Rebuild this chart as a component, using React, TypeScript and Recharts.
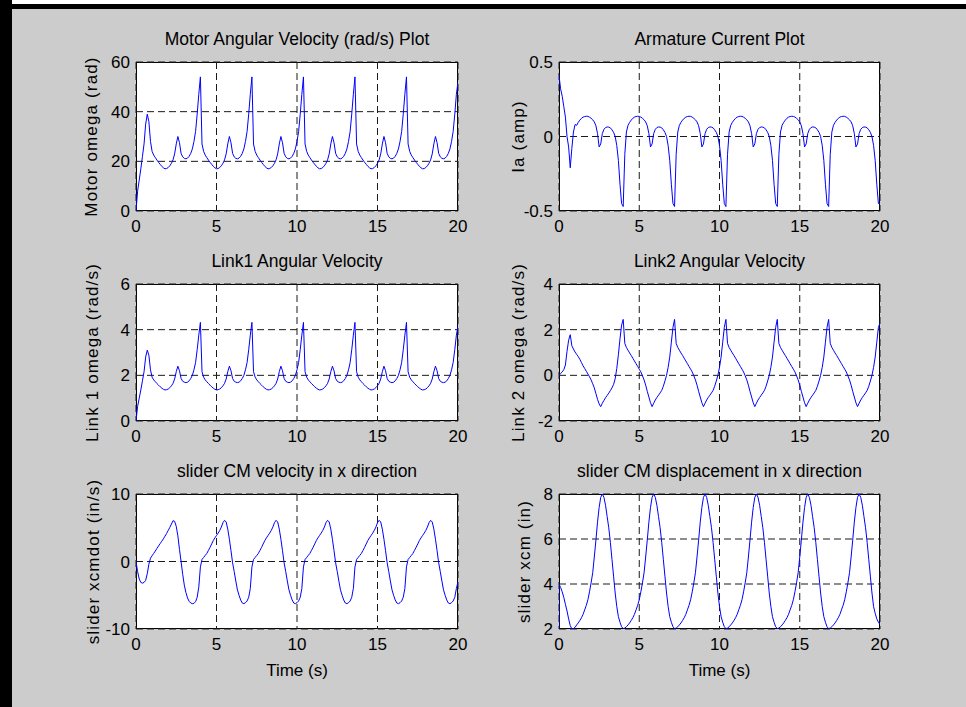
import React from 'react';
import { LineChart, Line, XAxis, YAxis, CartesianGrid } from 'recharts';

// ---------- data ----------
const time = [
  0, 0.1, 0.2, 0.3, 0.4, 0.5, 0.6, 0.7, 0.8, 0.9,
  1, 1.1, 1.2, 1.3, 1.4, 1.5, 1.6, 1.7, 1.8, 1.9,
  2, 2.1, 2.2, 2.3, 2.4, 2.5, 2.6, 2.7, 2.8, 2.9,
  3, 3.1, 3.2, 3.3, 3.4, 3.5, 3.6, 3.7, 3.8, 3.9,
  4, 4.1, 4.2, 4.3, 4.4, 4.5, 4.6, 4.7, 4.8, 4.9,
  5, 5.1, 5.2, 5.3, 5.4, 5.5, 5.6, 5.7, 5.8, 5.9,
  6, 6.1, 6.2, 6.3, 6.4, 6.5, 6.6, 6.7, 6.8, 6.9,
  7, 7.1, 7.2, 7.3, 7.4, 7.5, 7.6, 7.7, 7.8, 7.9,
  8, 8.1, 8.2, 8.3, 8.4, 8.5, 8.6, 8.7, 8.8, 8.9,
  9, 9.1, 9.2, 9.3, 9.4, 9.5, 9.6, 9.7, 9.8, 9.9,
  10, 10.1, 10.2, 10.3, 10.4, 10.5, 10.6, 10.7, 10.8, 10.9,
  11, 11.1, 11.2, 11.3, 11.4, 11.5, 11.6, 11.7, 11.8, 11.9,
  12, 12.1, 12.2, 12.3, 12.4, 12.5, 12.6, 12.7, 12.8, 12.9,
  13, 13.1, 13.2, 13.3, 13.4, 13.5, 13.6, 13.7, 13.8, 13.9,
  14, 14.1, 14.2, 14.3, 14.4, 14.5, 14.6, 14.7, 14.8, 14.9,
  15, 15.1, 15.2, 15.3, 15.4, 15.5, 15.6, 15.7, 15.8, 15.9,
  16, 16.1, 16.2, 16.3, 16.4, 16.5, 16.6, 16.7, 16.8, 16.9,
  17, 17.1, 17.2, 17.3, 17.4, 17.5, 17.6, 17.7, 17.8, 17.9,
  18, 18.1, 18.2, 18.3, 18.4, 18.5, 18.6, 18.7, 18.8, 18.9,
  19, 19.1, 19.2, 19.3, 19.4, 19.5, 19.6, 19.7, 19.8, 19.9,
  20,
];

const motorOmega = [
  0, 8, 12.5, 17, 22, 27, 35, 39, 36, 28,
  24, 22.5, 21.5, 20.5, 19.6, 18.8, 18, 17.4, 17, 17.1,
  17.5, 18.2, 19.2, 20.6, 23, 27, 30, 27.5, 23.2, 21.8,
  21.2, 21, 21.3, 22, 23.2, 25, 28, 32, 39, 47,
  54, 27, 24, 22.5, 21.5, 20.5, 19.6, 18.8, 18, 17.4,
  17, 17.1, 17.5, 18.2, 19.2, 20.6, 23, 27, 30, 27.5,
  23.2, 21.8, 21.2, 21, 21.3, 22, 23.2, 25, 28, 32,
  39, 47, 54, 27, 24, 22.5, 21.5, 20.5, 19.6, 18.8,
  18, 17.4, 17, 17.1, 17.5, 18.2, 19.2, 20.6, 23, 27,
  30, 27.5, 23.2, 21.8, 21.2, 21, 21.3, 22, 23.2, 25,
  28, 32, 39, 47, 54, 27, 24, 22.5, 21.5, 20.5,
  19.6, 18.8, 18, 17.4, 17, 17.1, 17.5, 18.2, 19.2, 20.6,
  23, 27, 30, 27.5, 23.2, 21.8, 21.2, 21, 21.3, 22,
  23.2, 25, 28, 32, 39, 47, 54, 27, 24, 22.5,
  21.5, 20.5, 19.6, 18.8, 18, 17.4, 17, 17.1, 17.5, 18.2,
  19.2, 20.6, 23, 27, 30, 27.5, 23.2, 21.8, 21.2, 21,
  21.3, 22, 23.2, 25, 28, 32, 39, 47, 54, 27,
  24, 22.5, 21.5, 20.5, 19.6, 18.8, 18, 17.4, 17, 17.1,
  17.5, 18.2, 19.2, 20.6, 23, 27, 30, 27.5, 23.2, 21.8,
  21.2, 21, 21.3, 22, 23.2, 25, 28, 32, 39, 47,
  52,
];

const armatureCurrent = [
  0.41, 0.32, 0.27, 0.2, 0.13, 0.0, -0.07, -0.21, -0.08, 0.03,
  0.08, 0.075, 0.095, 0.11, 0.122, 0.13, 0.134, 0.136, 0.135, 0.13,
  0.122, 0.112, 0.098, 0.072, 0.02, -0.07, -0.05, 0.02, 0.048, 0.06,
  0.064, 0.063, 0.058, 0.045, 0.028, 0.0, -0.06, -0.16, -0.32, -0.45,
  -0.47, -0.12, 0.03, 0.075, 0.095, 0.11, 0.122, 0.13, 0.134, 0.136,
  0.135, 0.13, 0.122, 0.112, 0.098, 0.072, 0.02, -0.07, -0.05, 0.02,
  0.048, 0.06, 0.064, 0.063, 0.058, 0.045, 0.028, 0.0, -0.06, -0.16,
  -0.32, -0.45, -0.47, -0.12, 0.03, 0.075, 0.095, 0.11, 0.122, 0.13,
  0.134, 0.136, 0.135, 0.13, 0.122, 0.112, 0.098, 0.072, 0.02, -0.07,
  -0.05, 0.02, 0.048, 0.06, 0.064, 0.063, 0.058, 0.045, 0.028, 0.0,
  -0.06, -0.16, -0.32, -0.45, -0.47, -0.12, 0.03, 0.075, 0.095, 0.11,
  0.122, 0.13, 0.134, 0.136, 0.135, 0.13, 0.122, 0.112, 0.098, 0.072,
  0.02, -0.07, -0.05, 0.02, 0.048, 0.06, 0.064, 0.063, 0.058, 0.045,
  0.028, 0.0, -0.06, -0.16, -0.32, -0.45, -0.47, -0.12, 0.03, 0.075,
  0.095, 0.11, 0.122, 0.13, 0.134, 0.136, 0.135, 0.13, 0.122, 0.112,
  0.098, 0.072, 0.02, -0.07, -0.05, 0.02, 0.048, 0.06, 0.064, 0.063,
  0.058, 0.045, 0.028, 0.0, -0.06, -0.16, -0.32, -0.45, -0.47, -0.12,
  0.03, 0.075, 0.095, 0.11, 0.122, 0.13, 0.134, 0.136, 0.135, 0.13,
  0.122, 0.112, 0.098, 0.072, 0.02, -0.07, -0.05, 0.02, 0.048, 0.06,
  0.064, 0.063, 0.058, 0.045, 0.028, 0.0, -0.06, -0.16, -0.32, -0.45,
  -0.45,
];

const link1Omega = [
  0, 0.64, 1.0, 1.36, 1.76, 2.16, 2.8, 3.1, 2.88, 2.24,
  1.92, 1.8, 1.72, 1.64, 1.57, 1.5, 1.44, 1.39, 1.36, 1.37,
  1.4, 1.46, 1.54, 1.65, 1.84, 2.16, 2.4, 2.2, 1.86, 1.74,
  1.7, 1.68, 1.7, 1.76, 1.86, 2.0, 2.24, 2.56, 3.12, 3.76,
  4.32, 2.16, 1.92, 1.8, 1.72, 1.64, 1.57, 1.5, 1.44, 1.39,
  1.36, 1.37, 1.4, 1.46, 1.54, 1.65, 1.84, 2.16, 2.4, 2.2,
  1.86, 1.74, 1.7, 1.68, 1.7, 1.76, 1.86, 2.0, 2.24, 2.56,
  3.12, 3.76, 4.32, 2.16, 1.92, 1.8, 1.72, 1.64, 1.57, 1.5,
  1.44, 1.39, 1.36, 1.37, 1.4, 1.46, 1.54, 1.65, 1.84, 2.16,
  2.4, 2.2, 1.86, 1.74, 1.7, 1.68, 1.7, 1.76, 1.86, 2.0,
  2.24, 2.56, 3.12, 3.76, 4.32, 2.16, 1.92, 1.8, 1.72, 1.64,
  1.57, 1.5, 1.44, 1.39, 1.36, 1.37, 1.4, 1.46, 1.54, 1.65,
  1.84, 2.16, 2.4, 2.2, 1.86, 1.74, 1.7, 1.68, 1.7, 1.76,
  1.86, 2.0, 2.24, 2.56, 3.12, 3.76, 4.32, 2.16, 1.92, 1.8,
  1.72, 1.64, 1.57, 1.5, 1.44, 1.39, 1.36, 1.37, 1.4, 1.46,
  1.54, 1.65, 1.84, 2.16, 2.4, 2.2, 1.86, 1.74, 1.7, 1.68,
  1.7, 1.76, 1.86, 2.0, 2.24, 2.56, 3.12, 3.76, 4.32, 2.16,
  1.92, 1.8, 1.72, 1.64, 1.57, 1.5, 1.44, 1.39, 1.36, 1.37,
  1.4, 1.46, 1.54, 1.65, 1.84, 2.16, 2.4, 2.2, 1.86, 1.74,
  1.7, 1.68, 1.7, 1.76, 1.86, 2.0, 2.24, 2.56, 3.12, 3.76,
  4.16,
];

const link2Omega = [
  0, 0.08, 0.15, 0.25, 0.45, 1.05, 1.54, 1.78, 1.3, 1.15,
  1.02, 0.92, 0.82, 0.7, 0.56, 0.42, 0.3, 0.18, 0.06, -0.06,
  -0.2, -0.37, -0.55, -0.8, -1.05, -1.25, -1.37, -1.22, -1.1, -0.98,
  -0.88, -0.78, -0.67, -0.55, -0.4, -0.15, 0.3, 0.9, 1.6, 2.2,
  2.45, 1.4, 1.22, 1.1, 0.98, 0.87, 0.75, 0.63, 0.51, 0.39,
  0.27, 0.15, -0.02, -0.2, -0.43, -0.7, -0.95, -1.2, -1.37, -1.22,
  -1.08, -0.97, -0.87, -0.77, -0.66, -0.48, -0.25, 0.0, 0.35, 0.8,
  1.45, 2.1, 2.45, 1.4, 1.22, 1.1, 0.98, 0.87, 0.75, 0.63,
  0.51, 0.39, 0.27, 0.15, -0.02, -0.2, -0.43, -0.7, -0.95, -1.2,
  -1.37, -1.22, -1.08, -0.97, -0.87, -0.77, -0.66, -0.48, -0.25, 0.0,
  0.35, 0.8, 1.45, 2.1, 2.45, 1.4, 1.22, 1.1, 0.98, 0.87,
  0.75, 0.63, 0.51, 0.39, 0.27, 0.15, -0.02, -0.2, -0.43, -0.7,
  -0.95, -1.2, -1.37, -1.22, -1.08, -0.97, -0.87, -0.77, -0.66, -0.48,
  -0.25, 0.0, 0.35, 0.8, 1.45, 2.1, 2.45, 1.4, 1.22, 1.1,
  0.98, 0.87, 0.75, 0.63, 0.51, 0.39, 0.27, 0.15, -0.02, -0.2,
  -0.43, -0.7, -0.95, -1.2, -1.37, -1.22, -1.08, -0.97, -0.87, -0.77,
  -0.66, -0.48, -0.25, 0.0, 0.35, 0.8, 1.45, 2.1, 2.45, 1.4,
  1.22, 1.1, 0.98, 0.87, 0.75, 0.63, 0.51, 0.39, 0.27, 0.15,
  -0.02, -0.2, -0.43, -0.7, -0.95, -1.2, -1.37, -1.22, -1.08, -0.97,
  -0.87, -0.77, -0.66, -0.48, -0.25, 0.0, 0.35, 0.8, 1.45, 2.1,
  2.3,
];

const sliderVelocity = [
  0, -1.5, -2.6, -3.1, -3.2, -3.1, -2.8, -1.8, -0.4, 0.5,
  0.85, 1.2, 1.55, 1.95, 2.3, 2.65, 3.0, 3.35, 3.75, 4.15,
  4.6, 5.05, 5.55, 6.05, 5.95, 5.2, 3.8, 1.8, 0.0, -1.9,
  -3.5, -4.6, -5.4, -5.9, -6.15, -6.25, -6.2, -5.95, -5.3, -3.8,
  -0.8, 0.3, 0.6, 0.9, 1.2, 1.65, 2.1, 2.6, 3.1, 3.5,
  3.85, 4.2, 4.6, 5.1, 5.75, 6.1, 5.85, 4.8, 3.3, 1.6,
  -0.2, -1.5, -2.9, -4.2, -5.0, -5.7, -6.15, -6.25, -6.1, -5.85,
  -5.3, -4.0, -0.8, 0.3, 0.6, 0.9, 1.2, 1.65, 2.1, 2.6,
  3.1, 3.5, 3.85, 4.2, 4.6, 5.1, 5.75, 6.1, 5.85, 4.8,
  3.3, 1.6, -0.2, -1.5, -2.9, -4.2, -5.0, -5.7, -6.15, -6.25,
  -6.1, -5.85, -5.3, -4.0, -0.8, 0.3, 0.6, 0.9, 1.2, 1.65,
  2.1, 2.6, 3.1, 3.5, 3.85, 4.2, 4.6, 5.1, 5.75, 6.1,
  5.85, 4.8, 3.3, 1.6, -0.2, -1.5, -2.9, -4.2, -5.0, -5.7,
  -6.15, -6.25, -6.1, -5.85, -5.3, -4.0, -0.8, 0.3, 0.6, 0.9,
  1.2, 1.65, 2.1, 2.6, 3.1, 3.5, 3.85, 4.2, 4.6, 5.1,
  5.75, 6.1, 5.85, 4.8, 3.3, 1.6, -0.2, -1.5, -2.9, -4.2,
  -5.0, -5.7, -6.15, -6.25, -6.1, -5.85, -5.3, -4.0, -0.8, 0.3,
  0.6, 0.9, 1.2, 1.65, 2.1, 2.6, 3.1, 3.5, 3.85, 4.2,
  4.6, 5.1, 5.75, 6.1, 5.85, 4.8, 3.3, 1.6, -0.2, -1.5,
  -2.9, -4.2, -5.0, -5.7, -6.15, -6.25, -6.1, -5.85, -5.3, -4.0,
  -3.0,
];

const sliderPosStart = 2.0;
const sliderPosition = [
  4.0, 3.85, 3.65, 3.4, 3.1, 2.8, 2.45, 2.15, 2.01, 2.02,
  2.07, 2.18, 2.27, 2.38, 2.5, 2.65, 2.85, 3.05, 3.3, 3.65,
  4.05, 4.5, 5.2, 5.95, 6.75, 7.4, 7.85, 8.0, 7.85, 7.5,
  7.0, 6.5, 5.85, 5.1, 4.35, 3.6, 3.0, 2.55, 2.3, 2.1,
  2.02, 2.04, 2.1, 2.18, 2.27, 2.38, 2.5, 2.65, 2.85, 3.05,
  3.3, 3.65, 4.05, 4.5, 5.2, 5.95, 6.75, 7.4, 7.85, 8.0,
  7.85, 7.5, 7.0, 6.5, 5.85, 5.1, 4.35, 3.6, 3.0, 2.55,
  2.3, 2.1, 2.02, 2.04, 2.1, 2.18, 2.27, 2.38, 2.5, 2.65,
  2.85, 3.05, 3.3, 3.65, 4.05, 4.5, 5.2, 5.95, 6.75, 7.4,
  7.85, 8.0, 7.85, 7.5, 7.0, 6.5, 5.85, 5.1, 4.35, 3.6,
  3.0, 2.55, 2.3, 2.1, 2.02, 2.04, 2.1, 2.18, 2.27, 2.38,
  2.5, 2.65, 2.85, 3.05, 3.3, 3.65, 4.05, 4.5, 5.2, 5.95,
  6.75, 7.4, 7.85, 8.0, 7.85, 7.5, 7.0, 6.5, 5.85, 5.1,
  4.35, 3.6, 3.0, 2.55, 2.3, 2.1, 2.02, 2.04, 2.1, 2.18,
  2.27, 2.38, 2.5, 2.65, 2.85, 3.05, 3.3, 3.65, 4.05, 4.5,
  5.2, 5.95, 6.75, 7.4, 7.85, 8.0, 7.85, 7.5, 7.0, 6.5,
  5.85, 5.1, 4.35, 3.6, 3.0, 2.55, 2.3, 2.1, 2.02, 2.04,
  2.1, 2.18, 2.27, 2.38, 2.5, 2.65, 2.85, 3.05, 3.3, 3.65,
  4.05, 4.5, 5.2, 5.95, 6.75, 7.4, 7.85, 8.0, 7.85, 7.5,
  7.0, 6.5, 5.85, 5.1, 4.35, 3.6, 3.0, 2.7, 2.45, 2.3,
  2.2,
];

const xTicks = [0, 5, 10, 15, 20];
const motorTicks = [0, 20, 40, 60];
const currentTicks = [-0.5, 0, 0.5];
const link1Ticks = [0, 2, 4, 6];
const link2Ticks = [-2, 0, 2, 4];
const velTicks = [-10, 0, 10];
const posTicks = [2, 4, 6, 8];

// ---------- layout ----------
const FONT = '"Liberation Sans", Arial, Helvetica, sans-serif';

const build = (vals: number[], start?: number) => {
  const rows = time.map((t, i) => ({ t, v: vals[i] }));
  return start === undefined ? rows : [{ t: time[0], v: start }, ...rows];
};

const panels = [
  { key: 'p1', left: 136, top: 62, w: 322, h: 149, title: 'Motor Angular Velocity (rad/s) Plot', ylabel: 'Motor omega (rad)', ylx: 97, domain: [0, 60], ticks: motorTicks, data: build(motorOmega), xlabel: false },
  { key: 'p2', left: 559, top: 62, w: 321, h: 149, title: 'Armature Current Plot', ylabel: 'Ia (amp)', ylx: 524, domain: [-0.5, 0.5], ticks: currentTicks, data: build(armatureCurrent), xlabel: false },
  { key: 'p3', left: 136, top: 284, w: 322, h: 137, title: 'Link1 Angular Velocity', ylabel: 'Link 1 omega (rad/s)', ylx: 98, domain: [0, 6], ticks: link1Ticks, data: build(link1Omega), xlabel: false },
  { key: 'p4', left: 559, top: 284, w: 321, h: 137, title: 'Link2 Angular Velocity', ylabel: 'Link 2 omega (rad/s)', ylx: 524, domain: [-2, 4], ticks: link2Ticks, data: build(link2Omega), xlabel: false },
  { key: 'p5', left: 136, top: 494, w: 322, h: 135, title: 'slider CM velocity in x direction', ylabel: 'slider xcmdot (in/s)', ylx: 99, domain: [-10, 10], ticks: velTicks, data: build(sliderVelocity), xlabel: true },
  { key: 'p6', left: 559, top: 494, w: 321, h: 135, title: 'slider CM displacement in x direction', ylabel: 'slider xcm (in)', ylx: 530, domain: [2, 8], ticks: posTicks, data: build(sliderPosition, sliderPosStart), xlabel: true },
];

const ML = 60;
const MT = 10;
const MR = 12;
const XH = 32;

function Panel({ p }: { p: any }) {
  const tickStyle = { fill: '#000', fontSize: 17, fontFamily: FONT };
  return (
    <>
      <div
        style={{
          position: 'absolute',
          left: p.left,
          top: p.top,
          width: p.w,
          height: p.h,
          background: '#fff',
          border: '1px solid #000',
          boxSizing: 'border-box',
        }}
      />
      <div style={{ position: 'absolute', left: p.left - ML, top: p.top - MT }}>
        <LineChart
          width={ML + p.w + MR}
          height={MT + p.h + XH}
          data={p.data}
          margin={{ top: MT, right: MR, left: 0, bottom: 0 }}
        >
          <CartesianGrid stroke="#1a1a1a" strokeDasharray="7 4" horizontal vertical />
          <XAxis
            dataKey="t"
            type="number"
            domain={[0, 20]}
            ticks={xTicks}
            interval={0}
            height={XH}
            axisLine={false}
            tickLine={false}
            tickSize={6}
            tickMargin={3}
            tick={tickStyle}
            allowDataOverflow
          />
          <YAxis
            type="number"
            domain={p.domain}
            ticks={p.ticks}
            interval={0}
            width={ML}
            axisLine={false}
            tickLine={false}
            tickSize={4}
            tickMargin={2}
            tick={tickStyle}
            allowDataOverflow
          />
          <Line
            type="linear"
            dataKey="v"
            stroke="#0000ff"
            strokeWidth={1}
            dot={false}
            activeDot={false}
            isAnimationActive={false}
          />
        </LineChart>
      </div>
    </>
  );
}

export default function App() {
  return (
    <div
      style={{
        position: 'absolute',
        left: 0,
        top: 0,
        width: 966,
        height: 707,
        background: '#cccccc',
        overflow: 'hidden',
        fontFamily: FONT,
      }}
    >
      <div style={{ position: 'absolute', left: 0, top: 0, width: 966, height: 4, background: '#ffffff' }} />
      <div style={{ position: 'absolute', left: 0, top: 4, width: 966, height: 5, background: '#000' }} />
      <div style={{ position: 'absolute', left: 0, top: 0, width: 12, height: 707, background: '#000' }} />
      {panels.map((p) => (
        <Panel key={p.key} p={p} />
      ))}
      <svg
        width={966}
        height={707}
        style={{ position: 'absolute', left: 0, top: 0, pointerEvents: 'none' }}
      >
        {panels.map((p) => {
          const cx = p.left + p.w / 2;
          const cy = p.top + p.h / 2;
          return (
            <g key={p.key} fontFamily={FONT} fill="#000">
              <text x={cx} y={p.top - 17} textAnchor="middle" fontSize={17.5}>
                {p.title}
              </text>
              <text
                x={p.ylx}
                y={cy}
                transform={`rotate(-90 ${p.ylx} ${cy})`}
                textAnchor="middle"
                fontSize={17}
                letterSpacing={1.15}
              >
                {p.ylabel}
              </text>
              {p.xlabel ? (
                <text x={cx} y={675.5} textAnchor="middle" fontSize={17}>
                  Time (s)
                </text>
              ) : null}
            </g>
          );
        })}
      </svg>
    </div>
  );
}
